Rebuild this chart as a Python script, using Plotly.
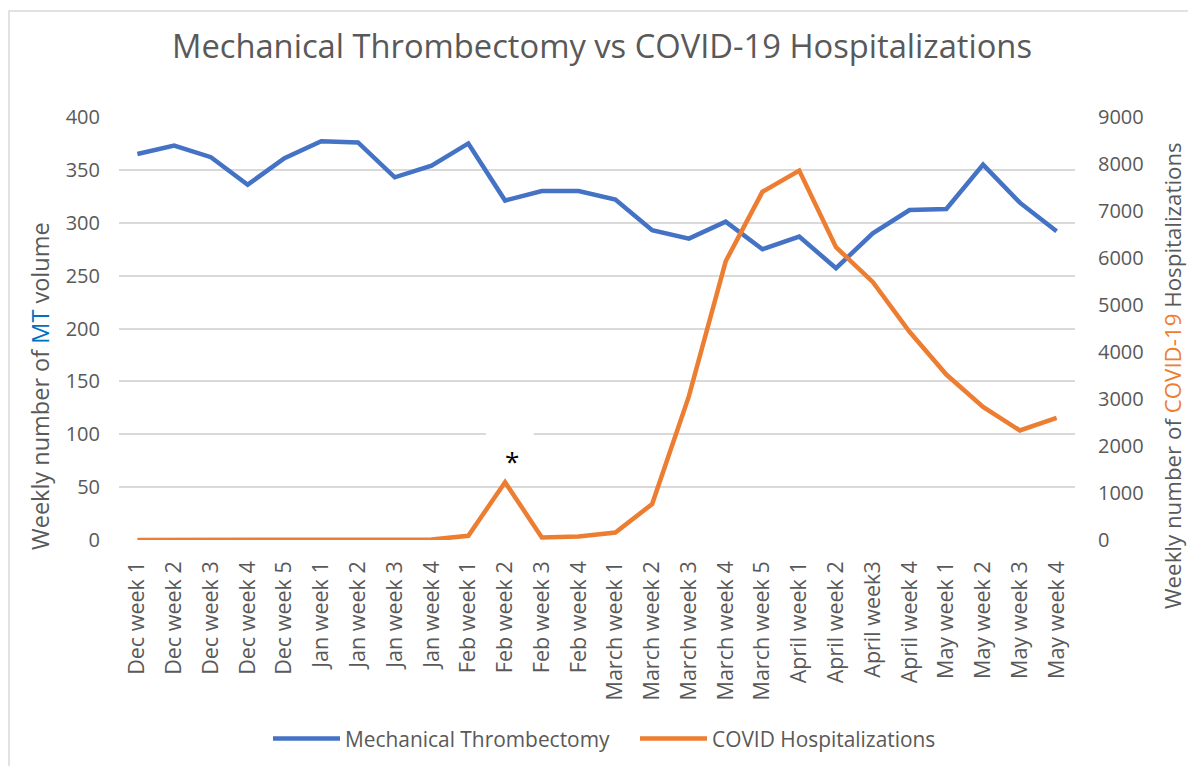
import plotly.graph_objects as go

categories = [
    "Dec week 1", "Dec week 2", "Dec week 3", "Dec week 4", "Dec week 5",
    "Jan week 1", "Jan week 2", "Jan week 3", "Jan week 4",
    "Feb week 1", "Feb week 2", "Feb week 3", "Feb week 4",
    "March week 1", "March week 2", "March week 3", "March week 4", "March week 5",
    "April week 1", "April week 2", "April week3", "April week 4",
    "May week 1", "May week 2", "May week 3", "May week 4",
]

mt_volume = [365, 373, 362, 336, 361, 377, 376, 343, 354, 375, 321, 330, 330,
             322, 293, 285, 301, 275, 287, 257, 290, 312, 313, 355, 319, 292]

covid_hosp = [0, 0, 0, 0, 0, 0, 0, 10, 10, 90, 1230, 55, 75,
              160, 765, 3060, 5930, 7410, 7860, 6230, 5490, 4430, 3520, 2830, 2330, 2600]

left_ticks = list(range(0, 401, 50))
right_ticks = list(range(0, 9001, 1000))

FONT = "Open Sans"
GRAY = "#595959"
BLUE = "#4472C4"
ORANGE = "#ED7D31"

fig = go.Figure()
fig.add_trace(go.Scatter(
    x=categories, y=mt_volume, name="Mechanical Thrombectomy",
    mode="lines", line=dict(color=BLUE, width=4.5), yaxis="y"))
fig.add_trace(go.Scatter(
    x=categories, y=covid_hosp, name="COVID Hospitalizations",
    mode="lines", line=dict(color=ORANGE, width=4.5), yaxis="y2"))

W, H = 1188, 766
L, R, T, B = 119, 113, 117, 226
pw, ph = W - L - R, H - T - B

def px_x(x):
    return (x - L) / pw

def px_y(y):
    return (H - B - y) / ph

n = len(categories)

fig.update_layout(
    width=W, height=H,
    margin=dict(l=L, r=R, t=T, b=B, autoexpand=False),
    paper_bgcolor="white", plot_bgcolor="white",
    font=dict(family=FONT, color=GRAY, size=20),
    title=dict(text="Mechanical Thrombectomy vs COVID-19 Hospitalizations",
               x=602 / W, xref="container", xanchor="center",
               y=1 - 47 / H, yref="container", yanchor="middle",
               font=dict(family=FONT, size=32.7, color=GRAY)),
    xaxis=dict(type="category", categoryorder="array", categoryarray=categories,
               range=[-0.5, n - 0.5],
               tickangle=-90, showgrid=False, zeroline=False, showline=False,
               ticks="", ticklabelstandoff=16,
               tickfont=dict(family=FONT, size=21.5, color=GRAY)),
    yaxis=dict(range=[0, 400], tickvals=left_ticks, showgrid=True,
               gridcolor="#D9D9D9", gridwidth=1.5, zeroline=False,
               showline=False, ticks="", ticklabelstandoff=18,
               tickfont=dict(family=FONT, size=20, color=GRAY)),
    yaxis2=dict(range=[0, 9000], tickvals=right_ticks, overlaying="y",
                side="right", showgrid=False, zeroline=False, showline=False,
                ticks="", ticklabelstandoff=22,
                tickfont=dict(family=FONT, size=20, color=GRAY)),
    legend=dict(orientation="h", x=635 / W, xref="container", xanchor="center",
                y=1 - 739 / H, yref="container", yanchor="middle",
                font=dict(family=FONT, size=20.9, color=GRAY),
                itemwidth=67, entrywidth=285),
    showlegend=True,
)

# axis titles
fig.add_annotation(
    text='Weekly number of <span style="color:#0070C0">MT</span> volume',
    xref="paper", yref="paper", x=px_x(40), y=px_y(386),
    xanchor="center", yanchor="middle", textangle=-90, showarrow=False,
    font=dict(family=FONT, size=23.5, color=GRAY))
fig.add_annotation(
    text='Weekly number of <span style="color:#ED7D31">COVID-19</span> Hospitalizations',
    xref="paper", yref="paper", x=px_x(1172), y=px_y(376),
    xanchor="center", yanchor="middle", textangle=-90, showarrow=False,
    font=dict(family=FONT, size=22.3, color=GRAY))

# white text-box behind asterisk (interrupts the gridline, as in the original)
fig.add_shape(type="rect", xref="x", yref="y", x0=9.48, x1=10.78, y0=66, y1=103,
              fillcolor="white", line=dict(width=0), layer="above")
fig.add_annotation(text="*", x="Feb week 2", y=75, xref="x", yref="y",
                   xshift=7, showarrow=False, yanchor="middle",
                   font=dict(family=FONT, size=26, color="black"))

# outer chart border
fig.add_shape(type="rect", xref="paper", yref="paper",
              x0=px_x(9), x1=px_x(1205), y0=px_y(785), y1=px_y(11),
              line=dict(color="#D9D9D9", width=1.5), fillcolor="rgba(0,0,0,0)",
              layer="below")

fig.write_html("out.html", config={"displayModeBar": False},
               post_script="document.body.style.margin='0';document.body.style.overflow='hidden';")
